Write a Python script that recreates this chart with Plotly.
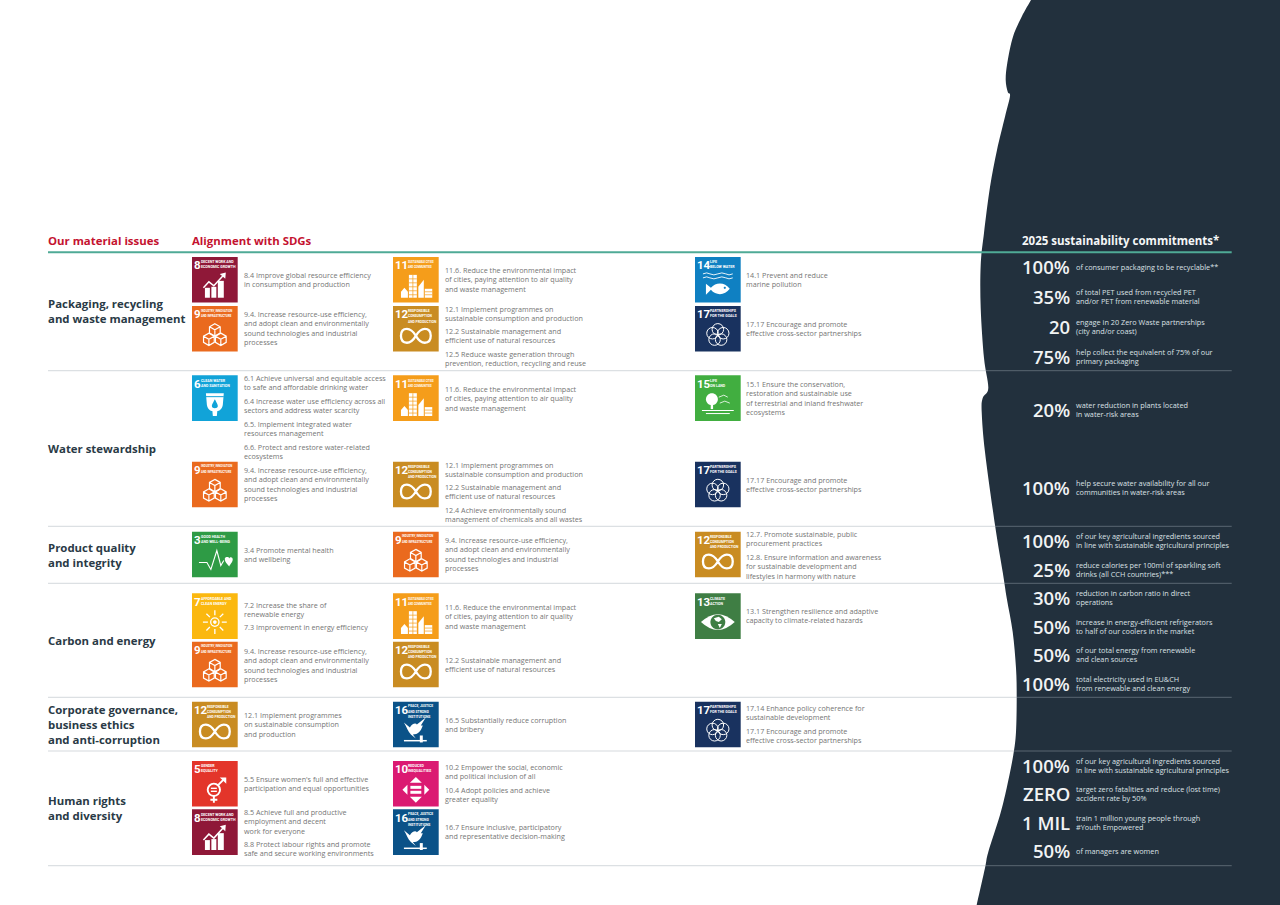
import re
import plotly.graph_objects as go

# ---------- content ----------
HEADERS = ["Our material issues", "Alignment with SDGs", "2025 sustainability commitments*"]
ISSUES = ["Packaging, recycling<br>and waste management", "Water stewardship",
          "Product quality<br>and integrity", "Carbon and energy",
          "Corporate governance,<br>business ethics<br>and anti-corruption",
          "Human rights<br>and diversity"]
ISSUE_Y = [311.8, 449, 555.3, 641, 725, 808.7]
ROW_LINES = [370.7, 526.3, 583.3, 697.3, 751, 865.7]

SDG_COLOR = {3: "#2E9B45", 5: "#E3352A", 6: "#11A3D8", 7: "#FBB80F", 8: "#8F1838", 9: "#EA6A1E",
             10: "#DB1A72", 11: "#F59D1A", 12: "#C98C22", 13: "#3F7E44", 14: "#0F80C2",
             15: "#41AE40", 16: "#0B5288", 17: "#19325F"}
SDG_LABEL = {3: "GOOD HEALTH<br>AND WELL-BEING", 5: "GENDER<br>EQUALITY", 6: "CLEAN WATER<br>AND SANITATION",
             7: "AFFORDABLE AND<br>CLEAN ENERGY", 8: "DECENT WORK AND<br>ECONOMIC GROWTH",
             9: "INDUSTRY, INNOVATION<br>AND INFRASTRUCTURE", 10: "REDUCED<br>INEQUALITIES",
             11: "SUSTAINABLE CITIES<br>AND COMMUNITIES", 12: "RESPONSIBLE<br>CONSUMPTION<br>AND PRODUCTION",
             13: "CLIMATE<br>ACTION", 14: "LIFE<br>BELOW WATER", 15: "LIFE<br>ON LAND",
             16: "PEACE, JUSTICE<br>AND STRONG<br>INSTITUTIONS", 17: "PARTNERSHIPS<br>FOR THE GOALS"}

T94 = "9.4. Increase resource-use efficiency,<br>and adopt clean and environmentally<br>sound technologies and industrial<br>processes"
T116 = "11.6. Reduce the environmental impact<br>of cities, paying attention to air quality<br>and waste management"
T121 = "12.1 Implement programmes on<br>sustainable consumption and production"
T122 = "12.2 Sustainable management and<br>efficient use of natural resources"
T1717 = "17.17 Encourage and promote<br>effective cross-sector partnerships"

# tile columns / (column, top, sdg)
COL_X = [192, 393, 695]
TEXT_X = [244, 445, 746.5]
TILES = [(0, 257, 8), (0, 306, 9), (1, 257, 11), (1, 306, 12), (2, 257, 14), (2, 306, 17),
         (0, 375.3, 6), (0, 461.7, 9), (1, 375.3, 11), (1, 461.7, 12), (2, 375.3, 15), (2, 461.7, 17),
         (0, 531.7, 3), (1, 531.7, 9), (2, 531.7, 12),
         (0, 593.3, 7), (0, 641.7, 9), (1, 593.3, 11), (1, 641.7, 12), (2, 593.3, 13),
         (0, 701.7, 12), (1, 701.7, 16), (2, 701.7, 17),
         (0, 761, 5), (0, 809.3, 8), (1, 761, 10), (1, 809.3, 16)]
TARGETS = [
    (0, 280.2, "8.4 Improve global resource efficiency<br>in consumption and production"),
    (0, 328.8, T94), (1, 280.3, T116), (1, 313.7, T121), (1, 336.3, T122),
    (1, 359.2, "12.5 Reduce waste generation through<br>prevention, reduction, recycling and reuse"),
    (2, 280.5, "14.1 Prevent and reduce<br>marine pollution"), (2, 329, T1717),
    (0, 383, "6.1 Achieve universal and equitable access<br>to safe and affordable drinking water"),
    (0, 406, "6.4 Increase water use efficiency across all<br>sectors and address water scarcity"),
    (0, 429, "6.5. Implement integrated water<br>resources management"),
    (0, 451.7, "6.6. Protect and restore water-related<br>ecosystems"),
    (0, 485, T94), (1, 398.7, T116), (1, 469.7, T121), (1, 492.3, T122),
    (1, 515.2, "12.4 Achieve environmentally sound<br>management of chemicals and all wastes"),
    (2, 398.8, "15.1 Ensure the conservation,<br>restoration and sustainable use<br>of terrestrial and inland freshwater<br>ecosystems"),
    (2, 485, T1717),
    (0, 554.7, "3.4 Promote mental health<br>and wellbeing"), (1, 554.8, T94),
    (2, 539.5, "12.7. Promote sustainable, public<br>procurement practices"),
    (2, 567, "12.8. Ensure information and awareness<br>for sustainable development and<br>lifestyles in harmony with nature"),
    (0, 609.7, "7.2 Increase the share of<br>renewable energy"), (0, 628, "7.3 Improvement in energy efficiency"),
    (0, 665.2, T94), (1, 616.7, T116), (1, 665, T122),
    (2, 616, "13.1 Strengthen resilience and adaptive<br>capacity to climate-related hazards"),
    (0, 724.8, "12.1 Implement programmes<br>on sustainable consumption<br>and production"),
    (1, 724.8, "16.5 Substantially reduce corruption<br>and bribery"),
    (2, 712.7, "17.14 Enhance policy coherence for<br>sustainable development"), (2, 736, T1717),
    (0, 783.7, "5.5 Ensure women's full and effective<br>participation and equal opportunities"),
    (0, 822, "8.5 Achieve full and productive<br>employment and decent<br>work for everyone"),
    (0, 849, "8.8 Protect labour rights and promote<br>safe and secure working environments"),
    (1, 772.3, "10.2 Empower the social, economic<br>and political inclusion of all"),
    (1, 795.3, "10.4 Adopt policies and achieve<br>greater equality"),
    (1, 832.3, "16.7 Ensure inclusive, participatory<br>and representative decision-making"),
]

COMMIT_VALUE = ["100%", "35%", "20", "75%", "20%", "100%", "100%", "25%", "30%", "50%", "50%", "100%",
                "100%", "ZERO", "1 MIL", "50%"]
COMMIT_Y = [267.3, 297, 327, 356.7, 410, 488, 541, 569.7, 598, 626.7, 655.3, 683.7, 766, 794.3, 823, 851.3]
COMMIT_TEXT = ["of consumer packaging to be recyclable**",
               "of total PET used from recycled PET<br>and/or PET from renewable material",
               "engage in 20 Zero Waste partnerships<br>(city and/or coast)",
               "help collect the equivalent of 75% of our<br>primary packaging",
               "water reduction in plants located<br>in water-risk areas",
               "help secure water availability for all our<br>communities in water-risk areas",
               "of our key agricultural ingredients sourced<br>in line with sustainable agricultural principles",
               "reduce calories per 100ml of sparkling soft<br>drinks (all CCH countries)***",
               "reduction in carbon ratio in direct<br>operations",
               "increase in energy-efficient refrigerators<br>to half of our coolers in the market",
               "of our total energy from renewable<br>and clean sources",
               "total electricity used in EU&CH<br>from renewable and clean energy",
               "of our key agricultural ingredients sourced<br>in line with sustainable agricultural principles",
               "target zero fatalities and reduce (lost time)<br>accident rate by 50%",
               "train 1 million young people through<br>#Youth Empowered",
               "of managers are women"]

# left edge of the dark panel, top to bottom
EDGE = [(1031, 0), (1021.7, 16.7), (1013, 36.7), (1007.3, 63), (1005.7, 80), (1007.7, 91.7), (1010, 96),
        (1005, 116.7), (997, 150), (990, 187), (984, 233), (980.7, 265), (980.7, 308), (984, 358),
        (988.3, 388), (982.7, 398), (981.7, 412), (985, 452), (995, 525), (1002.7, 572), (1006.7, 598),
        (1012.7, 632), (1016, 668), (1016.7, 698), (1016, 732), (1013.3, 755), (1006.7, 788), (1000, 815),
        (988.3, 852), (985, 868), (976.7, 905)]

RED, INK, GREY, TEAL, NAVY = "#C4122F", "#2A3A46", "#757575", "#4FAA96", "#22303D"
BODY, HEAD, TILE = "Open Sans", "Open Sans", "Roboto"

# ---------- icon drawing ----------
def circ(cx, cy, r):
    k = 0.5523 * r
    return (f"M{cx-r} {cy} C{cx-r} {cy-k} {cx-k} {cy-r} {cx} {cy-r} C{cx+k} {cy-r} {cx+r} {cy-k} {cx+r} {cy} "
            f"C{cx+r} {cy+k} {cx+k} {cy+r} {cx} {cy+r} C{cx-k} {cy+r} {cx-r} {cy+k} {cx-r} {cy} Z")

def rect(x0, y0, x1, y1):
    return f"M{x0} {y0} L{x1} {y0} L{x1} {y1} L{x0} {y1} Z"

def cube(cx, cy, r=6.2):
    h = r * 0.5
    w = r * 0.87
    return (f"M{cx} {cy-r} L{cx+w} {cy-h} L{cx+w} {cy+h} L{cx} {cy+r} L{cx-w} {cy+h} L{cx-w} {cy-h} Z "
            f"M{cx-w} {cy-h} L{cx} {cy} L{cx+w} {cy-h} M{cx} {cy} L{cx} {cy+r}")

# each item: (path, fill-or-None, stroke width); "bg" means the tile colour
ICONS = {
    3: [("M7 31 L15 31 L19 38 L25 19 L29 34 L32 29", None, 1.1),
        ("M33 27 C34 25 37 25 37.5 27 C38 25 41 25 41 28 C41 31 38 33 37.5 35 C36 33 33 31 33 27 Z", "white", 0)],
    5: [(circ(22, 29, 6.2), None, 1.9), ("M22 35 L22 42 M18.5 39 L25.5 39 M26.5 24 L33 17.5", None, 1.9),
        ("M28 16.5 L34.5 16.5 L34.5 23 Z", "white", 0), (rect(19, 26.8, 25, 28.2), "white", 0),
        (rect(19, 29.8, 25, 31.2), "white", 0)],
    6: [("M14 18 L32 18 L31 30 C30 35 27 36 25.5 36 L25 41 L21 41 L20.5 36 C19 36 16 35 15 30 Z", "white", 0),
        ("M23 24 C25 28 26 29 26 31 C26 34 20 34 20 31 C20 29 21 28 23 24 Z", "bg", 0),
        (rect(14, 21, 32, 22), "bg", 0)],
    7: [(circ(23, 29, 4.2), None, 1.3), (circ(23, 29, 1.8), "white", 0),
        ("M23 22 L23 17 M23 36 L23 41 M16 29 L11 29 M30 29 L35 29 M18 24 L14.5 20.5 M28 24 L31.5 20.5 "
         "M18 34 L14.5 37.5 M28 34 L31.5 37.5", None, 1.3)],
    8: [(rect(13, 31, 18, 41), "white", 0), (rect(19.5, 30, 24.5, 41), "white", 0), (rect(26, 24, 32, 41), "white", 0),
        ("M11.5 31 L17 25 L22 29 L31 19", None, 1.5), ("M28 17 L34 15.5 L33.5 22 Z", "white", 0)],
    9: [(cube(23, 24), None, 1.2), (cube(17, 33.5), None, 1.2), (cube(29, 33.5), None, 1.2)],
    10: [("M23 16 L29 22 L17 22 Z", "white", 0), ("M23 42 L29 36 L17 36 Z", "white", 0),
         ("M9.5 29 L14.5 24 L14.5 34 Z", "white", 0), ("M36.5 29 L31.5 24 L31.5 34 Z", "white", 0),
         (rect(17.5, 25, 28.5, 28), "white", 0), (rect(17.5, 30, 28.5, 33), "white", 0)],
    11: [("M8 41 L8 35 L11.5 31 L15 35 L15 41 Z", "white", 0), (rect(16, 18, 24, 41), "white", 0),
         ("M25.5 41 L25.5 30 L31 23 L31 41 Z", "white", 0), (rect(32, 32, 39.5, 41), "white", 0),
         ("M16 22 L24 22 M16 26 L24 26 M16 30 L24 30 M16 34 L24 34 M16 38 L24 38 M20 18 L20 41 "
          "M32 35 L39.5 35 M32 38 L39.5 38", None, 0.7, "bg")],
    12: [("M23 30 C20 25 17 23 14 23 C10 23 8 26 8 30 C8 34 10 37 14 37 C17 37 20 35 23 30 "
          "C26 25 29 23 32 23 C36 23 38 26 38 30 C38 34 36 37 32 37 C29 37 26 35 23 30", None, 2.3)],
    13: [("M6 29 Q23 13 40 29 Q23 45 6 29 Z", "white", 0), (circ(23, 29, 7.5), "bg", 0),
         ("M19 25 L24 23.5 L27 26 L24 29 L21 28 Z M23 31 L27 31 L25 35 Z", "white", 0)],
    14: [("M8 17 Q12 15 15 17 Q19 19 23 17 Q27 15 31 17 Q34 19 38 17 M8 21 Q12 19 15 21 Q19 23 23 21 Q27 19 31 21 Q34 23 38 21",
          None, 0.9),
         ("M11 27 L16 31 C21 25 30 25 35 32 C30 39 21 39 16 33 L11 38 Z", "white", 0), (circ(30, 31, 1.1), "bg", 0)],
    15: [(circ(17, 24, 6), "white", 0), (rect(15.8, 26, 18.2, 34), "white", 0), (rect(7, 35, 39, 36), "white", 0),
         (rect(11, 38, 35, 39), "white", 0), ("M24 22 L29 20 L33 22 M25 28 L30 26 L35 28", None, 0.8)],
    16: [("M11 21 L17 26 C19 22 23 21 24 23 L33 16 L28 24 L30 24 C28 30 25 33 20 33 L23 37 L18 33 C15 30 14 26 11 21 Z", "white", 0),
         (rect(11, 38.5, 34, 40), "white", 0), (rect(27, 34, 30, 41), "white", 0)],
    17: [(circ(23, 23.5, 5.8), None, 1), (circ(28.4, 27.4, 5.8), None, 1), (circ(26.3, 33.8, 5.8), None, 1),
         (circ(19.7, 33.8, 5.8), None, 1), (circ(17.6, 27.4, 5.8), None, 1)],
}

def place(d, x0, y0, s=45.7 / 46):
    nums = iter(range(10 ** 6))
    def rep(m):
        i = next(nums)
        v = float(m.group())
        return f"{(x0 if i % 2 == 0 else y0) + s * v:.2f}"
    return re.sub(r"-?\d+\.?\d*", rep, d)

# ---------- figure ----------
shapes, notes = [], []

def text(x, y, s, size, color, font=BODY, anchor="left", weight=None):
    f = dict(family=font, size=size, color=color)
    if weight:
        f["weight"] = weight
    notes.append(dict(x=x - (1.2 if anchor == "left" else 0), y=y - 0.7, text=s, showarrow=False, xanchor=anchor,
                      yanchor="middle", align=anchor, font=f, borderpad=0, xref="x", yref="y"))

def spline(pts):
    # Catmull-Rom through the outline points
    d = f"M{pts[0][0]} {pts[0][1]}"
    for i in range(len(pts) - 1):
        p0 = pts[max(i - 1, 0)]; p1 = pts[i]; p2 = pts[i + 1]; p3 = pts[min(i + 2, len(pts) - 1)]
        c1 = (p1[0] + (p2[0] - p0[0]) / 6, p1[1] + (p2[1] - p0[1]) / 6)
        c2 = (p2[0] - (p3[0] - p1[0]) / 6, p2[1] - (p3[1] - p1[1]) / 6)
        d += f" C{c1[0]:.2f} {c1[1]:.2f} {c2[0]:.2f} {c2[1]:.2f} {p2[0]} {p2[1]}"
    return d

shapes.append(dict(type="path", path=spline(EDGE) + " L1280 905 L1280 0 Z", fillcolor=NAVY, line_width=0, layer="below"))
shapes.append(dict(type="line", x0=48, x1=1231.7, y0=252.3, y1=252.3, line=dict(color=TEAL, width=2)))
for y in ROW_LINES:
    shapes.append(dict(type="line", x0=48, x1=1231.7, y0=y, y1=y, line=dict(color="rgba(160,170,180,0.45)", width=1)))

for col, top, n in TILES:
    x0 = COL_X[col]
    bg = SDG_COLOR[n]
    shapes.append(dict(type="rect", x0=x0, x1=x0 + 45.7, y0=top, y1=top + 45.6, fillcolor=bg, line_width=0))
    for item in ICONS[n]:
        d, fill, w = item[:3]
        stroke = item[3] if len(item) > 3 else "white"
        stroke = bg if stroke == "bg" else stroke
        fill = bg if fill == "bg" else fill
        shapes.append(dict(type="path", path=place(d, x0, top),
                           fillcolor=fill if fill else "rgba(0,0,0,0)",
                           line=dict(color=stroke, width=w)))
    text(x0 + 2.4, top + 8.9, str(n), 11.5, "white", TILE, weight=700)
    # label squeezed to the room right of the number
    lx = 15.5 if n > 9 else 9.5
    lines = SDG_LABEL[n].split("<br>")
    longest = max(len(s) for s in lines)
    size = min(3.6, (45 - lx) / (longest * 0.63))
    for k, s in enumerate(lines):
        text(x0 + lx, top + 5.9 + 5.2 * k, s, round(size, 2), "white", TILE, weight=700)

text(48.6, 240.7, HEADERS[0], 11.4, RED, HEAD, weight=700)
text(192, 240.7, HEADERS[1], 11.4, RED, HEAD, weight=700)
text(1021.7, 240.7, HEADERS[2], 11.5, "#F4F6F7", HEAD, weight=700)

for s, y in zip(ISSUES, ISSUE_Y):
    text(48.6, y, s, 11.4, INK, HEAD, weight=700)
for col, y, s in TARGETS:
    text(TEXT_X[col], y, s, 7.2, GREY)
for v, y, s in zip(COMMIT_VALUE, COMMIT_Y, COMMIT_TEXT):
    text(1070.8, y, v, 18.5, "#F1F3F4", HEAD, anchor="right", weight=600)
    text(1075.7, y, s, 7.3, "#DCE1E5")

fig = go.Figure(go.Scatter(x=[0, 1280], y=[0, 905], mode="markers", marker=dict(opacity=0), hoverinfo="skip"))
fig.update_layout(width=1280, height=905, margin=dict(l=0, r=0, t=0, b=0), paper_bgcolor="white", plot_bgcolor="white",
                  showlegend=False, shapes=shapes, annotations=notes,
                  xaxis=dict(range=[0, 1280], visible=False, fixedrange=True),
                  yaxis=dict(range=[905, 0], visible=False, fixedrange=True))
fig.write_html("out.html", config=dict(displayModeBar=False),
               post_script="document.body.style.margin='0';document.body.style.overflow='hidden';")
